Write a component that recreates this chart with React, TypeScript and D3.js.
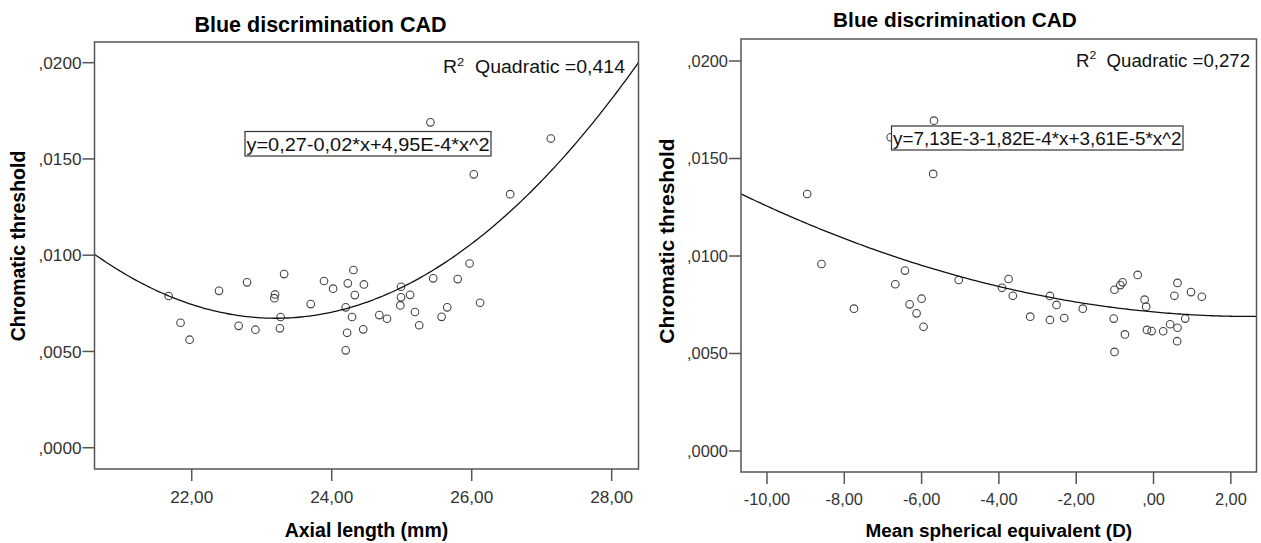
import React from "react";
import * as d3 from "d3";

// Axial length (mm) vs blue chromatic threshold
const axialLength = [
  21.67, 21.84, 21.97, 22.39, 22.79, 22.67, 22.91, 23.32, 23.19, 23.18, 23.27, 23.26, 23.7,
  23.89, 24.02, 24.31, 24.23, 24.46, 24.33, 24.2, 24.29, 24.22, 24.45, 24.2, 24.68, 24.79,
  24.99, 24.99, 24.98, 25.12, 25.19, 25.25, 25.45, 25.8, 25.65, 25.57, 25.97, 26.12,
  25.41, 27.13, 26.03, 26.55,
];
const axialThreshold = [
  0.00788, 0.00649, 0.00561, 0.00815, 0.00859, 0.00633, 0.00613, 0.00902, 0.00796, 0.00777, 0.00679, 0.0062, 0.00746,
  0.00866, 0.00826, 0.00923, 0.00854, 0.00848, 0.00793, 0.00729, 0.00679, 0.00597, 0.00615, 0.00506, 0.00689, 0.0067,
  0.00836, 0.00781, 0.00739, 0.00794, 0.00705, 0.00636, 0.0088, 0.00876, 0.00729, 0.0068, 0.00957, 0.00753,
  0.0169, 0.01606, 0.0142, 0.01317,
];

// Mean spherical equivalent (D) vs blue chromatic threshold
const sphericalEq = [
  -8.96, -5.68, -6.8, -5.7, -8.59, -6.43, -6.68, -7.75, -6.0, -6.31, -6.13, -5.95, -5.04,
  -3.92, -3.75, -3.64, -3.19, -2.68, -2.51, -2.68, -2.31, -1.83, -1.01,
  -0.86, -0.8, -0.41, -0.23, -0.19, -1.03, -0.74, -1.01, -0.17, -0.05, 0.25, 0.43, 0.62, 0.61,
  0.82, 0.54, 0.62, 0.97, 1.25,
];
const sphericalThreshold = [
  0.01318, 0.01694, 0.01609, 0.01421, 0.00959, 0.00925, 0.00855, 0.0073, 0.00781, 0.00752, 0.00706, 0.00637, 0.00877,
  0.00837, 0.00882, 0.00796, 0.00689, 0.00795, 0.00749, 0.00672, 0.00682, 0.0073, 0.00827,
  0.00851, 0.00865, 0.00903, 0.00776, 0.0074, 0.00679, 0.00598, 0.00508, 0.00621, 0.00615, 0.00614, 0.0065, 0.00632, 0.00563,
  0.00679, 0.00796, 0.00862, 0.00815, 0.00791,
];

// Quadratic fit coefficients [a, b, c] for y = a + b*x + c*x^2
const axialFit = [0.2732, -0.02297, 4.95e-4];
const sphericalFit = [7.13e-3, -1.82e-4, 3.61e-5];

const thresholdTicks = [0, 0.005, 0.01, 0.015, 0.02];
const axialTicks = [22, 24, 26, 28];
const sphericalTicks = [-10, -8, -6, -4, -2, 0, 2];

const chartTitle = "Blue discrimination CAD";
const yLabel = "Chromatic threshold";
const axialLabel = "Axial length (mm)";
const sphericalLabel = "Mean spherical equivalent (D)";
const axialR2 = "0,414";
const sphericalR2 = "0,272";
const axialEquation = "y=0,27-0,02*x+4,95E-4*x^2";
const sphericalEquation = "y=7,13E-3-1,82E-4*x+3,61E-5*x^2";

const FONT = "'Liberation Sans', Arial, Helvetica, sans-serif";

// Comma-decimal formatting with the leading zero dropped (",0150", ",00")
function commaFormat(v: number, digits: number): string {
  let s = Math.abs(v).toFixed(digits).replace(".", ",");
  if (s.startsWith("0,")) s = s.slice(1);
  return (v < 0 ? "-" : "") + s;
}

type PanelProps = {
  id: string;
  frame: { left: number; right: number; top: number; bottom: number };
  xDomain: [number, number];
  yDomain: [number, number];
  xs: number[];
  ys: number[];
  fit: number[];
  xTicks: number[];
  xLabel: string;
  r2: string;
  equation: string;
  titleX: number;
  titleY: number;
  titleSize: number;
  tickSize: number;
  r2Right: number;
  r2Y: number;
  r2Width: number;
  eqBox: { x: number; y: number; w: number; h: number };
  yLabelX: number;
  yLabelY: number;
  yLabelSize: number;
  xTickLabelY: number;
  xLabelY: number;
  xLabelSize: number;
};

function Panel(p: PanelProps) {
  const { frame } = p;
  const x = d3.scaleLinear().domain(p.xDomain).range([frame.left, frame.right]);
  const y = d3.scaleLinear().domain(p.yDomain).range([frame.bottom, frame.top]);
  const [a, b, c] = p.fit;
  const curveX = d3.range(0, 201).map((i) => p.xDomain[0] + ((p.xDomain[1] - p.xDomain[0]) * i) / 200);
  const line = d3
    .line<number>()
    .x((v) => x(v))
    .y((v) => y(a + b * v + c * v * v));
  const tickColor = "#555";
  const textColor = "#333";
  return (
    <g>
      <defs>
        <clipPath id={p.id}>
          <rect x={frame.left} y={frame.top} width={frame.right - frame.left} height={frame.bottom - frame.top} />
        </clipPath>
      </defs>
      <text x={p.titleX} y={p.titleY} textAnchor="middle" fontFamily={FONT} fontWeight="bold" fontSize={p.titleSize} fill="#000">
        {chartTitle}
      </text>
      {/* y ticks */}
      {thresholdTicks.map((t) => (
        <g key={"y" + t}>
          <line x1={frame.left - 12} x2={frame.left} y1={y(t)} y2={y(t)} stroke={tickColor} strokeWidth={1.5} />
          <text x={frame.left - 13} y={y(t)} dy="0.36em" textAnchor="end" fontFamily={FONT} fontSize={p.tickSize} fill={textColor}>
            {commaFormat(t, 4)}
          </text>
        </g>
      ))}
      {/* x ticks */}
      {p.xTicks.map((t) => (
        <g key={"x" + t}>
          <line x1={x(t)} x2={x(t)} y1={frame.bottom} y2={frame.bottom + 12} stroke={tickColor} strokeWidth={1.5} />
          <text x={x(t)} y={p.xTickLabelY} textAnchor="middle" fontFamily={FONT} fontSize={p.tickSize} fill={textColor}>
            {commaFormat(t, 2)}
          </text>
        </g>
      ))}
      {/* points */}
      {p.xs.map((v, i) => (
        <circle key={i} cx={x(v)} cy={y(p.ys[i])} r={3.8} fill="none" stroke="#444" strokeWidth={1.1} />
      ))}
      {/* fitted quadratic */}
      <path d={line(curveX) || ""} fill="none" stroke="#111" strokeWidth={1.3} clipPath={`url(#${p.id})`} />
      {/* plot frame */}
      <rect
        x={frame.left}
        y={frame.top}
        width={frame.right - frame.left}
        height={frame.bottom - frame.top}
        fill="none"
        stroke={tickColor}
        strokeWidth={1.5}
      />
      {/* R squared */}
      <text
        x={p.r2Right - p.r2Width}
        y={p.r2Y}
        fontFamily={FONT}
        fontSize={17.5}
        fill="#111"
        textLength={p.r2Width}
        lengthAdjust="spacingAndGlyphs"
      >
        <tspan>R</tspan>
        <tspan fontSize={11.5} dy={-7.5}>2</tspan>
        <tspan dy={7.5}>{"\u00a0\u00a0Quadratic =" + p.r2}</tspan>
      </text>
      {/* equation box */}
      <rect x={p.eqBox.x} y={p.eqBox.y} width={p.eqBox.w} height={p.eqBox.h} fill="#fff" stroke="#333" strokeWidth={1.2} />
      <text
        x={p.eqBox.x + 1.5}
        y={p.eqBox.y + p.eqBox.h - 5.5}
        fontFamily={FONT}
        fontSize={18}
        fill="#111"
        textLength={p.eqBox.w - 3}
        lengthAdjust="spacingAndGlyphs"
      >
        {p.equation}
      </text>
      {/* axis titles */}
      <text
        transform={`translate(${p.yLabelX},${p.yLabelY}) rotate(-90)`}
        textAnchor="middle"
        fontFamily={FONT}
        fontWeight="bold"
        fontSize={p.yLabelSize}
        fill="#000"
      >
        {yLabel}
      </text>
      <text
        x={(frame.left + frame.right) / 2}
        y={p.xLabelY}
        textAnchor="middle"
        fontFamily={FONT}
        fontWeight="bold"
        fontSize={p.xLabelSize}
        fill="#000"
      >
        {p.xLabel}
      </text>
    </g>
  );
}

export default function App() {
  return (
    <svg
      width={1261}
      height={543}
      viewBox="0 0 1261 543"
      style={{ position: "absolute", left: 0, top: 0, background: "#fff" }}
    >
      <rect width={1261} height={543} fill="#fff" />
      <Panel
        id="clip-axial"
        frame={{ left: 94.5, right: 638.5, top: 42, bottom: 469 }}
        xDomain={[20.611, 28.383]}
        yDomain={[-0.001106, 0.021075]}
        xs={axialLength}
        ys={axialThreshold}
        fit={axialFit}
        xTicks={axialTicks}
        xLabel={axialLabel}
        r2={axialR2}
        equation={axialEquation}
        titleX={320.5}
        titleY={31.5}
        titleSize={21.5}
        tickSize={17.2}
        r2Right={625}
        r2Y={73}
        r2Width={182}
        eqBox={{ x: 245, y: 131.5, w: 246, h: 24.5 }}
        yLabelX={25}
        yLabelY={246}
        yLabelSize={19.5}
        xTickLabelY={503}
        xLabelY={536.5}
        xLabelSize={19.5}
      />
      <Panel
        id="clip-spherical"
        frame={{ left: 741, right: 1256.5, top: 39, bottom: 472 }}
        xDomain={[-10.672, 2.664]}
        yDomain={[-0.001077, 0.021128]}
        xs={sphericalEq}
        ys={sphericalThreshold}
        fit={sphericalFit}
        xTicks={sphericalTicks}
        xLabel={sphericalLabel}
        r2={sphericalR2}
        equation={sphericalEquation}
        titleX={955}
        titleY={26.5}
        titleSize={20.8}
        tickSize={16.4}
        r2Right={1250}
        r2Y={66.5}
        r2Width={174}
        eqBox={{ x: 891.5, y: 126, w: 291.5, h: 24 }}
        yLabelX={674}
        yLabelY={241}
        yLabelSize={21}
        xTickLabelY={505}
        xLabelY={537}
        xLabelSize={18.9}
      />
    </svg>
  );
}
